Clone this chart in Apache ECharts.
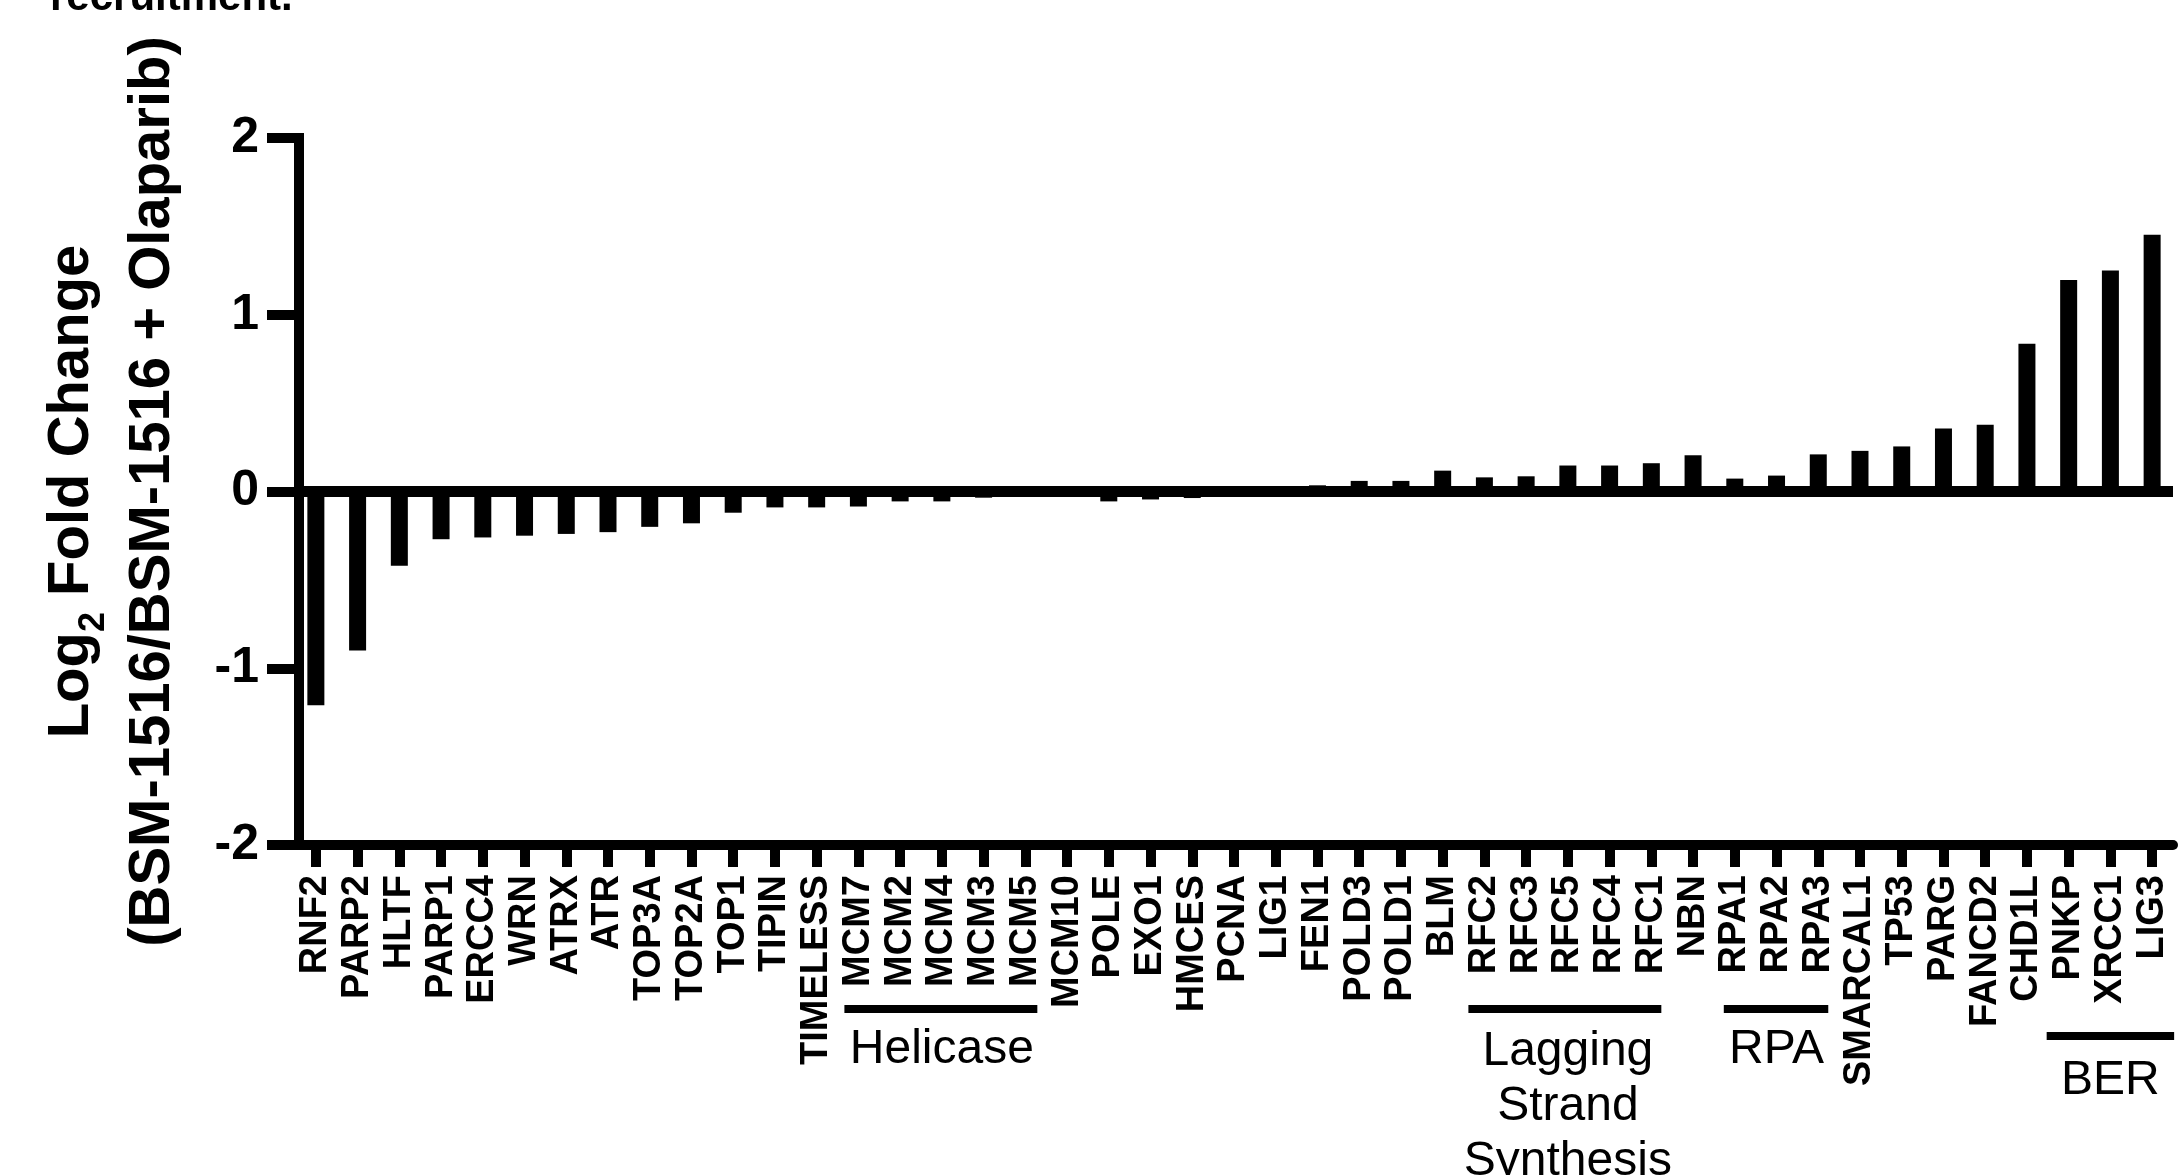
<!DOCTYPE html>
<html>
<head>
<meta charset="utf-8">
<script src="https://cdn.jsdelivr.net/npm/echarts@6/dist/echarts.min.js"></script>
<style>
html,body{margin:0;padding:0;background:#ffffff;}
#chart{width:2178px;height:1175px;}
</style>
</head>
<body>
<div id="chart"></div>
<script>
// ---------------- data ----------------
const categories = ['RNF2','PARP2','HLTF','PARP1','ERCC4','WRN','ATRX','ATR','TOP3A','TOP2A','TOP1','TIPIN','TIMELESS',
  'MCM7','MCM2','MCM4','MCM3','MCM5','MCM10','POLE','EXO1','HMCES','PCNA','LIG1','FEN1','POLD3','POLD1','BLM',
  'RFC2','RFC3','RFC5','RFC4','RFC1','NBN','RPA1','RPA2','RPA3','SMARCAL1','TP53','PARG','FANCD2','CHD1L',
  'PNKP','XRCC1','LIG3'];
const log2FoldChange = [-1.21,-0.90,-0.42,-0.27,-0.26,-0.25,-0.24,-0.23,-0.20,-0.18,-0.12,-0.09,-0.09,
  -0.085,-0.056,-0.056,-0.035,-0.02,-0.01,-0.056,-0.045,-0.037,-0.02,0.02,0.035,0.06,0.06,0.118,
  0.08,0.086,0.147,0.147,0.16,0.205,0.073,0.09,0.21,0.23,0.255,0.356,0.377,0.836,
  1.196,1.251,1.453];
const yMin = -2, yMax = 2, yStep = 1;
const groupNames = ['Helicase','Lagging\nStrand\nSynthesis','RPA','BER'];
const groupFirst = ['MCM7','RFC2','RPA1','PNKP'];
const groupLast  = ['MCM5','RFC1','RPA3','LIG3'];
const yTitleLine1 = ['Log', '2', ' Fold Change'];
const yTitleLine2 = '(BSM-1516/BSM-1516 + Olaparib)';
const topCaption = 'recruitment.';

// ---------------- layout / style ----------------
const FONT = '"Liberation Sans", Arial, Helvetica, sans-serif';
const groupLineY = [1009, 1009, 1009, 1036];
const groupTextTop = [1022, 1024, 1022, 1053];
const groupPadL = [14, 16, 11, 22];
const groupPadR = [12, 10, 10, 22];

const chart = echarts.init(document.getElementById('chart'), null, {renderer: 'canvas'});

chart.setOption({
  animation: false,
  backgroundColor: '#ffffff',
  grid: {left: 295, right: 5, top: 138, bottom: 330, containLabel: false},
  xAxis: {
    type: 'category',
    data: categories,
    boundaryGap: true,
    axisLine: {onZero: false, lineStyle: {color: '#000', width: 10}},
    axisTick: {show: true, alignWithLabel: true, interval: 0, length: 22, lineStyle: {color: '#000', width: 10}},
    axisLabel: {interval: 0, rotate: 90, margin: 30, color: '#000', fontSize: 38, fontWeight: 'bold', fontFamily: FONT},
    splitLine: {show: false}
  },
  yAxis: {
    type: 'value',
    min: yMin, max: yMax, interval: yStep,
    offset: -4,
    axisLine: {show: true, lineStyle: {color: '#000', width: 10, cap: 'square'}},
    axisTick: {show: true, length: 32, lineStyle: {color: '#000', width: 10}},
    axisLabel: {margin: 40, color: '#000', fontSize: 50, fontWeight: 'bold', fontFamily: FONT},
    splitLine: {show: false},
    name: '{a|' + yTitleLine1[0] + '}{s|' + yTitleLine1[1] + '}{a|' + yTitleLine1[2] + '}\n{a|' + yTitleLine2 + '}',
    nameLocation: 'middle',
    nameRotate: 90,
    nameGap: 106,
    nameTextStyle: {
      color: '#000', fontSize: 58, fontWeight: 'bold', fontFamily: FONT,
      rich: {
        a: {color: '#000', fontSize: 58, fontWeight: 'bold', fontFamily: FONT, lineHeight: 81},
        s: {color: '#000', fontSize: 36, fontWeight: 'bold', fontFamily: FONT, lineHeight: 37, verticalAlign: 'bottom'}
      }
    }
  },
  series: [{
    type: 'bar',
    data: log2FoldChange,
    barWidth: 17,
    itemStyle: {color: '#000'},
    markLine: {
      silent: true,
      symbol: 'none',
      label: {show: false},
      lineStyle: {color: '#000', width: 11, type: 'solid'},
      data: [{yAxis: 0}]
    }
  }]
});

// group annotations positioned through the category axis
const graphics = [];
groupNames.forEach((name, g) => {
  const x1 = chart.convertToPixel({xAxisIndex: 0}, categories.indexOf(groupFirst[g]));
  const x2 = chart.convertToPixel({xAxisIndex: 0}, categories.indexOf(groupLast[g]));
  graphics.push({
    type: 'line', silent: true,
    shape: {x1: x1 - groupPadL[g], y1: groupLineY[g], x2: x2 + groupPadR[g], y2: groupLineY[g]},
    style: {stroke: '#000', lineWidth: 8}
  });
  graphics.push({
    type: 'text', silent: true,
    x: (x1 + x2) / 2, y: groupTextTop[g],
    style: {text: name, fill: '#000', fontSize: 48, fontFamily: FONT, fontWeight: 'normal',
      align: 'center', verticalAlign: 'top', lineHeight: 55}
  });
});
graphics.push({
  type: 'text', silent: true, x: 50, y: -2,
  style: {text: topCaption, fill: '#000', fontSize: 42, fontFamily: FONT, fontWeight: 'bold',
    align: 'left', verticalAlign: 'middle'}
});
chart.setOption({graphic: graphics});
</script>
</body>
</html>
